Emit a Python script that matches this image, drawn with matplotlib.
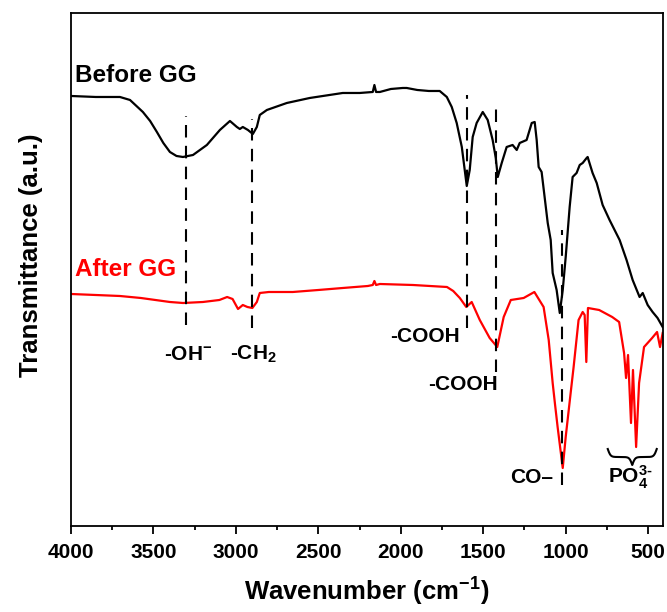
import numpy as np
import matplotlib.pyplot as plt
from matplotlib.ticker import MultipleLocator

plt.rcParams['font.family'] = ['Liberation Sans', 'DejaVu Sans']
plt.rcParams['font.weight'] = 'bold'
plt.rcParams['axes.labelweight'] = 'bold'
plt.rcParams['mathtext.fontset'] = 'custom'
plt.rcParams['mathtext.rm'] = 'Liberation Sans:bold'
plt.rcParams['mathtext.bf'] = 'Liberation Sans:bold'
plt.rcParams['mathtext.it'] = 'Liberation Sans:bold'

# FTIR spectra (wavenumber in cm-1, transmittance in arbitrary units)
wn_before = [4000, 3850, 3703, 3642, 3564, 3520, 3479, 3440, 3400, 3360, 3321, 3260,
             3176, 3097, 3036,
             2994, 2976, 2958, 2927, 2897, 2873, 2855, 2812, 2691, 2552, 2352, 2249,
             2170, 2160, 2150, 2127, 2060, 1988, 1964, 1900, 1830, 1764, 1721, 1691,
             1661, 1630, 1600, 1582, 1564, 1540, 1503, 1473, 1443, 1424, 1412, 1388,
             1358, 1322, 1297, 1279, 1237, 1206, 1188, 1176, 1164, 1146, 1109, 1091,
             1079, 1055, 1036, 1018, 1000, 976, 958, 934, 915, 897, 873, 867, 837,
             812, 776, 734, 673, 631, 594, 552, 533, 503, 473, 443, 412]
tr_before = [430, 429, 429, 426, 414, 405, 394, 383, 374, 370, 369, 371,
             381, 396, 405,
             399, 397, 399, 396, 392, 399, 411, 416, 423, 428, 433, 433,
             434, 441, 434, 434, 437, 438, 438, 436, 435, 435, 429, 419,
             403, 379, 340, 356, 389, 403, 414, 406, 386, 368, 349, 363,
             379, 381, 376, 383, 386, 403, 404, 386, 359, 354, 303, 286,
             253, 236, 213, 236, 269, 319, 349, 353, 361, 363, 368, 369, 353,
             343, 321, 306, 286, 266, 246, 229, 233, 221, 214, 208, 199]

wn_after = [4000, 3850, 3703, 3576, 3400, 3320, 3200, 3100, 3053, 3020, 2987, 2958,
            2930, 2900, 2873, 2855, 2800, 2655, 2500, 2352, 2200, 2170, 2160, 2150,
            2127, 1926, 1720, 1682, 1642, 1603, 1570, 1521, 1461, 1415, 1376, 1333,
            1255, 1190, 1134, 1103, 1079, 1065, 1049, 1018, 1000, 970, 952, 922, 897,
            885, 875, 865, 797, 718, 676, 646, 634, 622, 604, 592, 573, 555, 525,
            476, 446, 428, 412]
tr_after = [232, 231, 230, 228, 224, 223, 224, 226, 229, 227, 217, 221,
            219, 218, 224, 233, 234, 234, 236, 238, 240, 241, 245, 241,
            242, 241, 239, 235, 228, 219, 224, 206, 188, 179, 209, 226,
            228, 234, 219, 186, 143, 122, 99, 58, 89, 133, 159, 206, 214,
            211, 164, 218, 216, 209, 204, 173, 148, 171, 103, 156, 79, 143, 179,
            188, 194, 179, 193]

# peak markers: wavenumber, lower and upper end of the dashed guide
peak_wn = [3300, 2900, 1600, 1420, 1020]
peak_lo = [201, 198, 198, 154, 41]
peak_hi = [410, 407, 431, 418, 296]

fig = plt.figure(figsize=(6.67, 6.12), dpi=100)
ax = fig.add_axes([0.1064, 0.1405, 0.8876, 0.8383])

ax.plot(wn_before, tr_before, color='black', lw=1.6)
ax.plot(wn_after, tr_after, color='red', lw=1.6)

for w, lo, hi in zip(peak_wn, peak_lo, peak_hi):
    ax.plot([w, w], [lo, hi], color='black', lw=1.5, dashes=(6, 4))

ax.text(3976, 444, 'Before GG', color='black', fontsize=17.5, va='baseline')
ax.text(3976, 250, 'After GG', color='red', fontsize=17.5, va='baseline')

fs = 15
ax.text(3290, 166, r'-OH$^{-}$', fontsize=fs, ha='center', va='baseline')
ax.text(2895, 166, r'-CH$_{2}$', fontsize=fs, ha='center', va='baseline')
ax.text(1643, 184, '-COOH', fontsize=fs, ha='right', va='baseline')
ax.text(1412, 136, '-COOH', fontsize=fs, ha='right', va='baseline')
ax.text(1079, 43, 'CO\u2013', fontsize=fs, ha='right', va='baseline')
ax.text(605, 43, r'PO$_{4}^{3\text{-}}$', fontsize=fs, ha='center', va='baseline')

# curly brace over the phosphate bands
t = np.linspace(0, 1, 201)
half = t[:101]
b = 1 / (1 + np.exp(-35 * (half - 0.0))) + 1 / (1 + np.exp(-35 * (half - 0.5)))
shape = np.concatenate([b, b[::-1][1:]])
shape = (shape - shape.min()) / (shape.max() - shape.min())
bx = 745 + (448 - 745) * t
by = 77 - 16 * shape
ax.plot(bx, by, color='black', lw=1.5)

ax.set_xlim(4000, 410)
ax.set_ylim(0, 513)
ax.set_yticks([])
ax.xaxis.set_major_locator(MultipleLocator(500))
ax.xaxis.set_minor_locator(MultipleLocator(250))
ax.tick_params(axis='x', which='major', direction='out', length=6, width=1.3,
               labelsize=15, pad=6)
ax.tick_params(axis='x', which='minor', direction='out', length=3, width=1.3)
for s in ax.spines.values():
    s.set_linewidth(1.3)

ax.set_xlabel(r'Wavenumber (cm$^{-1}$)', fontsize=18.5, fontweight='bold')
ax.set_ylabel('Transmittance (a.u.)', fontsize=18.5, fontweight='bold')
ax.xaxis.set_label_coords(0.5, -0.098)
ax.yaxis.set_label_coords(-0.047, 0.528)

fig.savefig('out.png', dpi=100)
